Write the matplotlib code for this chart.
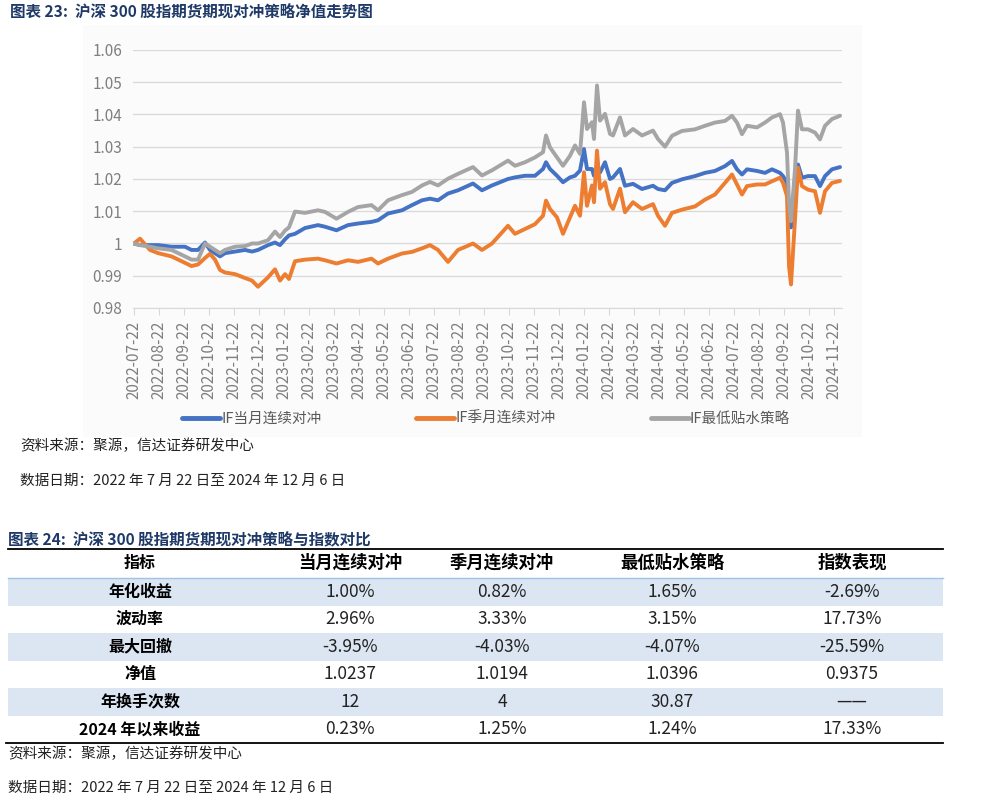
import matplotlib
matplotlib.use("Agg")
import matplotlib.pyplot as plt
from matplotlib.patches import Rectangle
from matplotlib.lines import Line2D

plt.rcParams['font.family'] = ['Noto Sans CJK SC', 'DejaVu Sans']
plt.rcParams['axes.unicode_minus'] = False

# ---- data: month offset from 2022-07-22 ----
pos = [0.0, 0.24, 0.64, 0.97, 1.5, 2.04, 2.3, 2.56, 2.84, 3.04, 3.24, 3.44, 3.64,
       4.04, 4.44, 4.72, 4.96, 5.36, 5.64, 5.84, 6.04, 6.2, 6.44, 6.84, 7.36, 7.64,
       8.1, 8.56, 8.96, 9.5, 9.76, 10.16, 10.72, 11.12, 11.52, 11.84, 12.16, 12.56,
       12.96, 13.56, 13.92, 14.32, 14.96, 15.24, 15.64, 16.04, 16.36, 16.48, 16.64,
       16.92, 17.16, 17.44, 17.64, 17.84, 18.0, 18.12, 18.32, 18.4, 18.52, 18.64,
       18.84, 19.04, 19.16, 19.44, 19.64, 19.96, 20.32, 20.76, 20.96, 21.24, 21.52,
       21.92, 22.44, 22.84, 23.24, 23.64, 23.92, 24.12, 24.32, 24.52, 24.92, 25.24,
       25.52, 25.84, 25.96, 26.12, 26.2, 26.28, 26.44, 26.56, 26.72, 26.96, 27.24,
       27.44, 27.64, 27.92, 28.24]

dangyue = [1.000, 0.9995, 0.9995, 0.9995, 0.999, 0.999, 0.998, 0.998, 1.0003, 0.998,
           0.997, 0.996, 0.997, 0.9975, 0.998, 0.9975, 0.998, 0.9995, 1.0003, 0.9995,
           1.0013, 1.0025, 1.003, 1.0048, 1.0057, 1.0052, 1.0041, 1.0057, 1.0062,
           1.0067, 1.0072, 1.0093, 1.0103, 1.0119, 1.0134, 1.0139, 1.0134, 1.0155,
           1.0165, 1.0186, 1.0165, 1.018, 1.020, 1.0205, 1.021, 1.021, 1.0231, 1.0252,
           1.0231, 1.021, 1.019, 1.0205, 1.021, 1.0226, 1.0293, 1.0231, 1.0231, 1.021,
           1.0231, 1.022, 1.0252, 1.020, 1.0205, 1.0231, 1.0179, 1.0185, 1.0169,
           1.0179, 1.0169, 1.0165, 1.0188, 1.0199, 1.0209, 1.0219, 1.0225, 1.024,
           1.0256, 1.023, 1.0214, 1.023, 1.0225, 1.0219, 1.023, 1.0219, 1.0209,
           1.0188, 1.010, 1.005, 1.0199, 1.0245, 1.0204, 1.0209, 1.0209, 1.0178,
           1.0209, 1.023, 1.0237]

jiyue = [1.000, 1.0015, 0.998, 0.997, 0.996, 0.994, 0.993, 0.9935, 0.9955, 0.9968,
         0.995, 0.9918, 0.991, 0.9905, 0.9893, 0.9885, 0.9866, 0.9895, 0.992, 0.9885,
         0.9905, 0.989, 0.9945, 0.995, 0.9953, 0.9948, 0.9938, 0.9948, 0.9943,
         0.9953, 0.9938, 0.9953, 0.9969, 0.9974, 0.9985, 0.9995, 0.998, 0.9943,
         0.998, 1.000, 0.998, 1.000, 1.0055, 1.003, 1.0045, 1.006, 1.0086, 1.0133,
         1.0107, 1.0081, 1.003, 1.0081, 1.0117, 1.0086, 1.0221, 1.0117, 1.018, 1.0128,
         1.0288, 1.017, 1.019, 1.0122, 1.0107, 1.017, 1.0097, 1.0128, 1.0107, 1.0122,
         1.0086, 1.0055, 1.0095, 1.0105, 1.0115, 1.0136, 1.0152, 1.0188, 1.0214,
         1.0183, 1.0152, 1.0178, 1.0183, 1.0183, 1.0193, 1.0204, 1.0188, 1.0147,
         0.993, 0.9873, 1.0074, 1.0235, 1.0178, 1.0167, 1.0162, 1.0095, 1.0162,
         1.0188, 1.0194]

zuidi = [1.000, 0.9995, 0.999, 0.9985, 0.998, 0.996, 0.995, 0.995, 1.000, 0.999,
         0.998, 0.997, 0.998, 0.999, 0.9992, 1.000, 1.000, 1.001, 1.0037, 1.002,
         1.004, 1.005, 1.0099, 1.0095, 1.0103, 1.0098, 1.0077, 1.0098, 1.0113,
         1.0119, 1.0103, 1.0134, 1.015, 1.016, 1.018, 1.0191, 1.018, 1.0201, 1.0216,
         1.0237, 1.0211, 1.0227, 1.0257, 1.0241, 1.0252, 1.0267, 1.0283, 1.0335,
         1.0298, 1.0267, 1.0241, 1.0272, 1.0304, 1.0278, 1.0438, 1.0355, 1.0376,
         1.0324, 1.049, 1.0381, 1.0402, 1.034, 1.0335, 1.0391, 1.0335, 1.0355,
         1.0335, 1.035, 1.0324, 1.030, 1.0334, 1.0349, 1.0354, 1.0365, 1.0375,
         1.038, 1.0396, 1.0375, 1.0339, 1.0365, 1.036, 1.0375, 1.0391, 1.0401,
         1.0375, 1.0282, 1.0126, 1.0069, 1.023, 1.0412, 1.0354, 1.0354, 1.0344,
         1.0323, 1.0365, 1.0386, 1.0396]

series_names = ['IF当月连续对冲', 'IF季月连续对冲', 'IF最低贴水策略']
colors = ['#4472C4', '#ED7D31', '#A5A5A5']

months = ['2022-07', '2022-08', '2022-09', '2022-10', '2022-11', '2022-12',
          '2023-01', '2023-02', '2023-03', '2023-04', '2023-05', '2023-06',
          '2023-07', '2023-08', '2023-09', '2023-10', '2023-11', '2023-12',
          '2024-01', '2024-02', '2024-03', '2024-04', '2024-05', '2024-06',
          '2024-07', '2024-08', '2024-09', '2024-10', '2024-11']
tick_labels = [m + '-22' for m in months]
yticks = [0.98, 0.99, 1.0, 1.01, 1.02, 1.03, 1.04, 1.05, 1.06]
ytick_labels = ['0.98', '0.99', '1', '1.01', '1.02', '1.03', '1.04', '1.05', '1.06']

# table
row_names = ['年化收益', '波动率', '最大回撤', '净值', '年换手次数', '2024 年以来收益']
col_names = ['指标', '当月连续对冲', '季月连续对冲', '最低贴水策略', '指数表现']
col_dangyue = ['1.00%', '2.96%', '-3.95%', '1.0237', '12', '0.23%']
col_jiyue = ['0.82%', '3.33%', '-4.03%', '1.0194', '4', '1.25%']
col_zuidi = ['1.65%', '3.15%', '-4.07%', '1.0396', '30.87', '1.24%']
col_index = ['-2.69%', '17.73%', '-25.59%', '0.9375', '——', '17.33%']

title1 = '图表 23:  沪深 300 股指期货期现对冲策略净值走势图'
title2 = '图表 24:  沪深 300 股指期货期现对冲策略与指数对比'
source = '资料来源：聚源，信达证券研发中心'
date_note = '数据日期：2022 年 7 月 22 日至 2024 年 12 月 6 日'

W, H = 981, 802
fig = plt.figure(figsize=(W / 100, H / 100), dpi=100, facecolor='white')

# background layer in pixel coordinates
bg = fig.add_axes([0, 0, 1, 1], zorder=0)
bg.set_xlim(0, W)
bg.set_ylim(H, 0)
bg.axis('off')

navy = '#1F3A68'
bg.add_patch(Rectangle((83, 25), 779, 412, facecolor='#FBFBFB', edgecolor='none'))
bg.text(10, 13, title1, fontsize=11.2, fontweight='bold', color=navy, va='center')
bg.text(20, 446, source, fontsize=10.5, style='italic', color='#222222', va='center')
bg.text(20, 481, date_note, fontsize=10.5, style='italic', color='#222222', va='center')

# table
bg.text(8, 540, title2, fontsize=11.2, fontweight='bold', color=navy, va='center')
col_x = [140, 350, 502, 672, 852]
row_top = 578
row_h = 27.5
for i in range(len(row_names)):
    if i % 2 == 0:
        bg.add_patch(Rectangle((8, row_top + i * row_h), 935, row_h,
                               facecolor='#DCE6F2', edgecolor='none'))
bg.plot([8, 943], [549, 549], color='black', lw=1.3)
bg.plot([8, 943], [578, 578], color='#9DC3E6', lw=1.0)
bg.plot([6, 943], [743, 743], color='black', lw=1.3)
for j, c in enumerate(col_names):
    bg.text(col_x[j], 563, c, fontsize=12.5 if j else 11.5, fontweight='bold',
            ha='center', va='center', color='black')
columns = [col_dangyue, col_jiyue, col_zuidi, col_index]
for i, r in enumerate(row_names):
    yc = row_top + (i + 0.5) * row_h
    bg.text(col_x[0], yc, r, fontsize=11.5, fontweight='bold', ha='center',
            va='center', color='black')
    for j, col in enumerate(columns):
        bg.text(col_x[j + 1], yc, col[i], fontsize=12.5, ha='center', va='center',
                color='#222222')
bg.text(8, 754, source, fontsize=10.5, style='italic', color='#222222', va='center')
bg.text(8, 788, date_note, fontsize=10.5, style='italic', color='#222222', va='center')

# line chart
ax = fig.add_axes([133 / W, 1 - 308 / H, (842 - 133) / W, 258 / H], zorder=2)
ax.set_facecolor('none')
for vals, name, c in zip([dangyue, jiyue, zuidi], series_names, colors):
    ax.plot(pos, vals, color=c, lw=2.8, label=name, solid_joinstyle='round',
            solid_capstyle='round')

ax.set_xlim(-0.04, 28.32)
ax.set_ylim(0.98, 1.06)
ax.set_yticks(yticks)
ax.set_yticklabels(ytick_labels)
ax.set_xticks(range(len(tick_labels)))
ax.set_xticklabels(tick_labels, rotation=90)
ax.grid(axis='y', color='#D9D9D9', lw=0.9)
ax.set_axisbelow(True)
for s in ['top', 'right', 'left']:
    ax.spines[s].set_visible(False)
ax.spines['bottom'].set_color('#D9D9D9')
ax.tick_params(axis='y', length=0, labelsize=11, labelcolor='#7F7F7F', pad=8)
ax.tick_params(axis='x', length=5, color='#D9D9D9', labelsize=11,
               labelcolor='#7F7F7F', pad=4)

handles = [Line2D([0], [0], color=c, lw=3.5, solid_capstyle='round') for c in colors]
leg = fig.legend(handles, series_names, loc='center', bbox_to_anchor=(486 / W, 1 - 419 / H),
                 ncol=3, frameon=False, fontsize=10.5, handlelength=2.6,
                 handletextpad=0.1, columnspacing=6.5)
for t in leg.get_texts():
    t.set_color('#595959')

fig.savefig('out.png', dpi=100, facecolor='white')
